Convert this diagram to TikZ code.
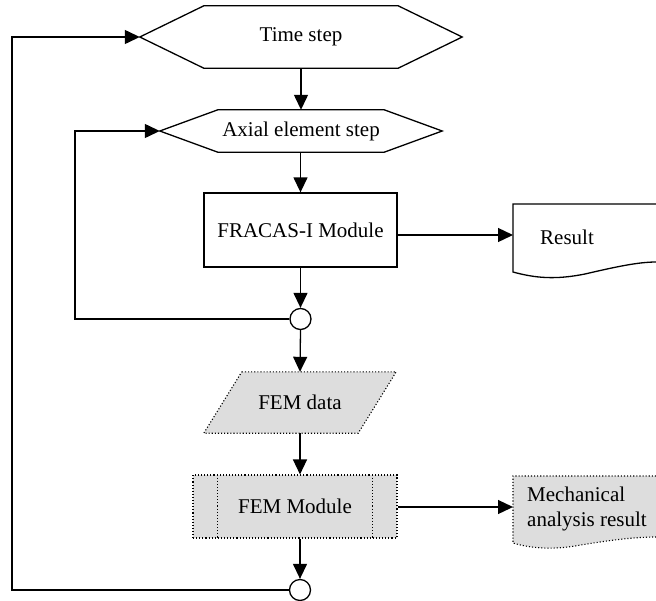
\documentclass[tikz,border=0pt]{standalone}
\usepackage{fontspec}
\setmainfont{Liberation Serif}
\usetikzlibrary{arrows.meta}
\definecolor{boxgray}{HTML}{DDDDDD}
\tikzset{
  flow/.style={line width=1.3pt, -{Triangle[length=15pt,width=14pt]}},
  outline/.style={line width=1.3pt, line join=miter},
  dotline/.style={line width=1.1pt, dotted, line join=miter},
  label/.style={inner sep=0pt, font=\fontsize{21}{25}\selectfont},
  holder/.style={draw=none, inner sep=0pt, font=\fontsize{21}{25}\selectfont},
  joint/.style={circle, draw, line width=1.3pt, fill=white, minimum size=21pt, inner sep=0pt}
}
\begin{document}
\begin{tikzpicture}[x=1pt, y=-1pt]
\useasboundingbox (0,0) rectangle (656,600);

% time loop header
\node[holder, minimum width=322pt, minimum height=62pt] (time) at (301,37) {Time step};
\draw[outline] (time.west) -- ([xshift=64pt]time.north west) -- ([xshift=-64pt]time.north east)
  -- (time.east) -- ([xshift=-64pt]time.south east) -- ([xshift=64pt]time.south west) -- cycle;

% axial element loop header
\node[holder, minimum width=282pt, minimum height=42pt] (axial) at (301,131) {Axial element step};
\draw[outline] (axial.west) -- ([xshift=58pt]axial.north west) -- ([xshift=-58pt]axial.north east)
  -- (axial.east) -- ([xshift=-58pt]axial.south east) -- ([xshift=58pt]axial.south west) -- cycle;

% FRACAS-I process
\node[draw, outline, minimum width=193pt, minimum height=74pt, inner sep=0pt,
      font=\fontsize{21}{25}\selectfont] (fracas) at (300.5,230) {FRACAS-I Module};

% result document
\draw[outline] (656,204) -- (513,204) -- (513,272)
  .. controls (535,278) and (555,280) .. (585,274)
  .. controls (615,267) and (638,262) .. (656,262);
\node[label] (result) at (567,237) {Result};
\coordinate (resin) at (513,235);

% junction of the element loop
\node[joint] (j1) at (300.5,319) {};

% FEM data input
\node[holder, minimum width=154pt, minimum height=61pt] (femdata) at (300,402.5) {};
\filldraw[fill=boxgray, dotline] ([xshift=19pt]femdata.north west) -- ([xshift=19pt]femdata.north east)
  -- ([xshift=-19pt]femdata.south east) -- ([xshift=-19pt]femdata.south west) -- cycle;
\node[label] at (femdata) {FEM data};

% FEM predefined process
\node[draw, dotline, fill=boxgray, minimum width=204pt, minimum height=63pt, inner sep=0pt,
      font=\fontsize{21}{25}\selectfont] (femmod) at (295,506.5) {FEM Module};
\draw[dotline] ([xshift=25pt]femmod.north west) -- ([xshift=25pt]femmod.south west);
\draw[dotline] ([xshift=-25pt]femmod.north east) -- ([xshift=-25pt]femmod.south east);

% mechanical result document
\fill[boxgray] (656,476) -- (513,476) -- (513,543)
  .. controls (530,548) and (550,550) .. (575,546)
  .. controls (610,540) and (635,537) .. (656,537) -- cycle;
\draw[dotline] (656,476) -- (513,476) -- (513,543)
  .. controls (530,548) and (550,550) .. (575,546)
  .. controls (610,540) and (635,537) .. (656,537);
\node[label, anchor=west, align=left] (mech) at (527,509) {Mechanical\\analysis result};
\coordinate (mechin) at (513,507);

% junction of the time loop
\node[joint] (j2) at (300,590) {};

% main flow
\draw[flow] (time.south -| axial.north) -- (axial.north);
\draw[flow] (axial.south -| fracas.north) -- (fracas.north);
\draw[flow] (fracas.south) -- (j1.north);
\draw[flow] (j1.south) -- (femdata.north);
\draw[flow] (femdata.south) -- (femdata.south |- femmod.north);
\draw[flow] (femmod.south -| j2.north) -- (j2.north);

% side outputs
\draw[flow] (fracas.east |- resin) -- (resin);
\draw[flow] (femmod.east |- mechin) -- (mechin);

% loop-back lines
\draw[flow] (j1.west) -- (75,319) -- (75,131) -- (axial.west);
\draw[flow] (j2.west) -- (12,590) -- (12,37) -- (time.west);
\end{tikzpicture}
\end{document}
